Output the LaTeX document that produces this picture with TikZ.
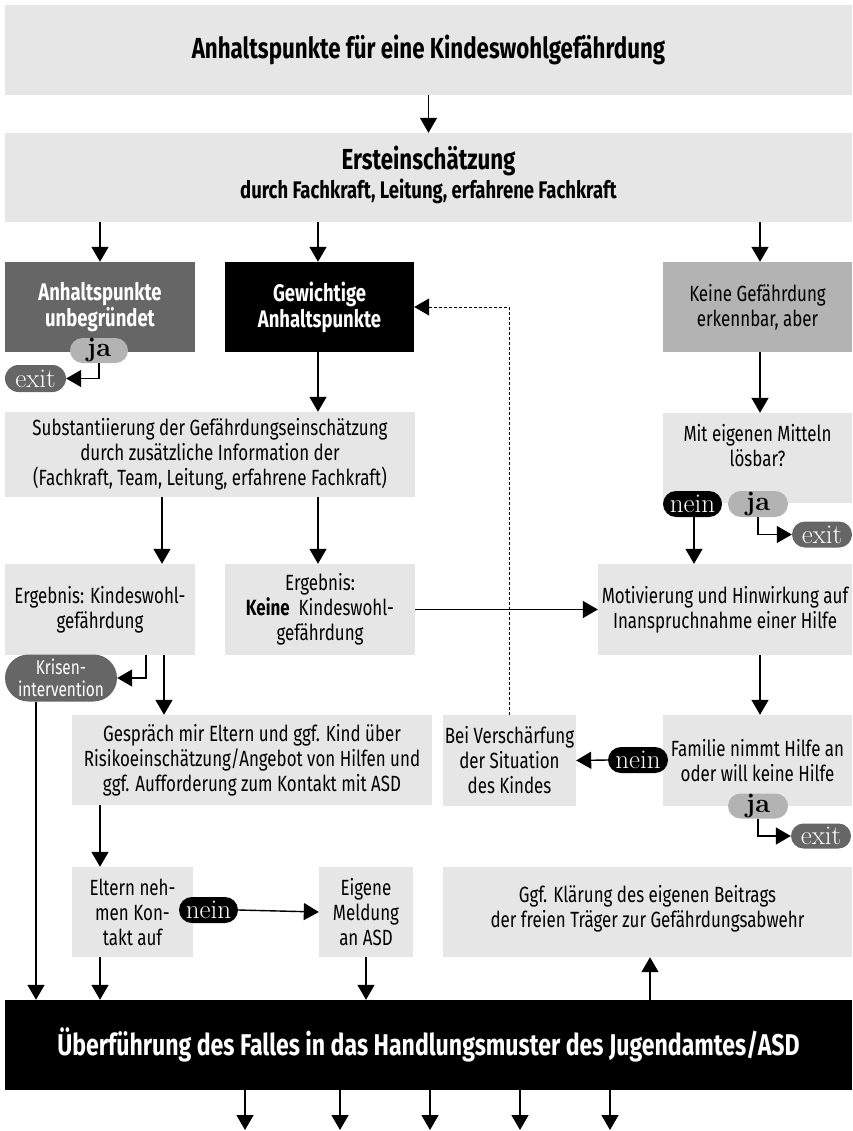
\documentclass[tikz,border=0pt]{standalone}
\usepackage{fontspec}
\newfontfamily\din{Fira Sans}[FakeStretch=0.77]
\usetikzlibrary{arrows.meta,calc,shapes.misc}
\definecolor{lg}{HTML}{E6E6E6}
\definecolor{dg}{HTML}{666666}
\definecolor{mg}{HTML}{B3B3B3}
\begin{document}
\begin{tikzpicture}[x=1pt,y=-1pt,
  box/.style={fill=lg, inner sep=0pt, align=center, font={\din\fontsize{22}{25}\selectfont}},
  txt/.style={inner sep=0pt, align=center, font={\din\fontsize{22}{25}\selectfont}},
  big/.style={font={\din\bfseries\fontsize{29}{32}\selectfont}},
  pill/.style={rounded rectangle, inner sep=0pt, font={\rmfamily\fontsize{27}{27}\selectfont}},
  jap/.style={pill, fill=mg, font={\rmfamily\bfseries\fontsize{27}{27}\selectfont}},
  exitp/.style={pill, fill=dg, text=white},
  neinp/.style={pill, fill=black, text=white},
  arr/.style={draw, line width=1.4pt, -{Triangle[length=15pt,width=17pt]}},
  dsh/.style={draw, line width=1pt, dash pattern=on 3pt off 2pt, -{Triangle[length=15pt,width=17pt]}}
]
\useasboundingbox (0,0) rectangle (852,1131);
\fill[white] (0,0) rectangle (852,1131);

% boxes
\node[box, big, minimum width=847, minimum height=90] (top) at (428.5,50) {Anhaltspunkte für eine Kindeswohlgefährdung};
\node[box, minimum width=847, minimum height=89] (erst) at (428.5,177.5) {};
\node[txt, big] (ersttitle) at (428.5,161) {Ersteinschätzung};
\node[txt, font={\din\bfseries\fontsize{24}{26}\selectfont}] (erstsub) at (428.5,191) {durch Fachkraft, Leitung, erfahrene Fachkraft};

\node[box, fill=dg, text=white, font={\din\bfseries\fontsize{24}{26}\selectfont}, minimum width=190, minimum height=90] (unbeg) at (100,307) {Anhaltspunkte\\unbegründet};
\node[box, fill=black, text=white, font={\din\bfseries\fontsize{24}{26}\selectfont}, minimum width=189, minimum height=90] (gew) at (319.5,307) {Gewichtige\\Anhaltspunkte};
\node[box, fill=mg, minimum width=189, minimum height=90] (keine) at (757.5,307) {Keine Gefährdung\\erkennbar, aber};

\node[box, minimum width=410, minimum height=85] (subst) at (210,454.5) {Substantiierung der Gefährdungseinschätzung\\durch zusätzliche Information der\\(Fachkraft, Team, Leitung, erfahrene Fachkraft)};
\node[box, minimum width=189, minimum height=90] (mit) at (757.5,458) {};
\node[txt] (mittext) at (757.5,446) {Mit eigenen Mitteln\\lösbar?};

\node[box, minimum width=190, minimum height=91] (erg1) at (100,609.5) {Ergebnis: Kindeswohl-\\gefährdung};
\node[box, minimum width=190, minimum height=91] (erg2) at (320,609.5) {Ergebnis:\\\textbf{Keine}\ \ Kindeswohl-\\gefährdung};
\node[box, minimum width=254, minimum height=91] (motiv) at (725,609.5) {Motivierung und Hinwirkung auf\\Inanspruchnahme einer Hilfe};

\node[box, minimum width=360, minimum height=90] (gesp) at (252,760) {Gespräch mir Eltern und ggf. Kind über\\Risikoeinschätzung/Angebot von Hilfen und\\ggf. Aufforderung zum Kontakt mit ASD};
\node[box, minimum width=133, minimum height=91] (bei) at (509.5,760.5) {Bei Verschärfung\\der Situation\\des Kindes};
\node[box, minimum width=189, minimum height=91] (fam) at (757.5,760.5) {Familie nimmt Hilfe an\\oder will keine Hilfe};

\node[box, minimum width=121, minimum height=90] (eltern) at (132.5,912) {Eltern neh-\\men Kon-\\takt auf};
\node[box, minimum width=94, minimum height=90] (eigene) at (366,912) {Eigene\\Meldung\\an ASD};
\node[box, minimum width=409, minimum height=90] (klar) at (647.5,912) {};
\node[txt] (klartext) at (647.5,909) {Ggf. Klärung des eigenen Beitrags\\der freien Träger zur Gefährdungsabwehr};

\node[box, font={\din\bfseries\fontsize{30}{32}\selectfont}, fill=black, text=white, minimum width=847, minimum height=90] (ueber) at (428.5,1045) {Überführung des Falles in das Handlungsmuster des Jugendamtes/ASD};

% pills
\node[jap, minimum width=58, minimum height=25] (jaU) at (99,350.5) {ja};
\node[exitp, minimum width=61, minimum height=27] (exitU) at (35.5,378.5) {exit};
\node[neinp, minimum width=59, minimum height=26] (neinM) at (692.5,504) {nein};
\node[jap, minimum width=60, minimum height=26] (jaM) at (758,504) {ja};
\node[exitp, minimum width=60, minimum height=26] (exitM) at (822,534.5) {exit};
\node[pill, fill=dg, text=white, font={\din\fontsize{20}{22}\selectfont}, align=center, minimum width=112, minimum height=47] (krisen) at (61,678) {Krisen-\\intervention};
\node[neinp, minimum width=60, minimum height=26] (neinF) at (638,760) {nein};
\node[jap, minimum width=60, minimum height=25] (jaF) at (758,806) {ja};
\node[exitp, minimum width=60, minimum height=25] (exitF) at (821,836) {exit};
\node[neinp, minimum width=59, minimum height=26] (neinE) at (208.5,910) {nein};

% connectors
\draw[arr] (top.south) -- (erst.north);
\draw[arr] (100,0 |- erst.south) -- (100,0 |- unbeg.north);
\draw[arr] (318,0 |- erst.south) -- (318,0 |- gew.north);
\draw[arr] (760,0 |- erst.south) -- (760,0 |- keine.north);
\draw[arr] (jaU.south) |- (exitU.east);
\draw[arr] (318,0 |- gew.south) -- (318,0 |- subst.north);
\draw[arr] (760,0 |- keine.south) -- (760,0 |- mit.north);
\draw[arr] (jaM.south) |- (exitM.west);
\draw[arr] (694,0 |- neinM.south) -- (694,0 |- motiv.north);
\draw[arr] (162,0 |- subst.south) -- (162,0 |- erg1.north);
\draw[arr] (318,0 |- subst.south) -- (318,0 |- erg2.north);
\draw[arr] (erg2.east) -- (motiv.west);
\draw[arr] (146,0 |- erg1.south) |- (krisen.east);
\draw[arr] (164,0 |- erg1.south) -- (164,0 |- gesp.north);
\draw[arr] (760,0 |- motiv.south) -- (760,0 |- fam.north);
\draw[arr] (neinF.west) -- (bei.east);
\draw[arr] (jaF.south) |- (exitF.west);
\draw[dsh] (bei.north) |- (gew.east);
\draw[arr] (36,0 |- krisen.south) -- (36,0 |- ueber.north);
\draw[arr] (100,0 |- gesp.south) -- (100,0 |- eltern.north);
\draw[arr] (neinE.east) -- (eigene.west);
\draw[arr] (100,0 |- eltern.south) -- (100,0 |- ueber.north);
\draw[arr] (366,0 |- eigene.south) -- (366,0 |- ueber.north);
\draw[arr] (650,0 |- ueber.north) -- (650,0 |- klar.south);
\foreach \i/\x in {1/245,2/340,3/430,4/520,5/610} {
  \coordinate (b\i) at (\x,1130);
  \draw[arr] (b\i |- ueber.south) -- (b\i);
}
\end{tikzpicture}
\end{document}
